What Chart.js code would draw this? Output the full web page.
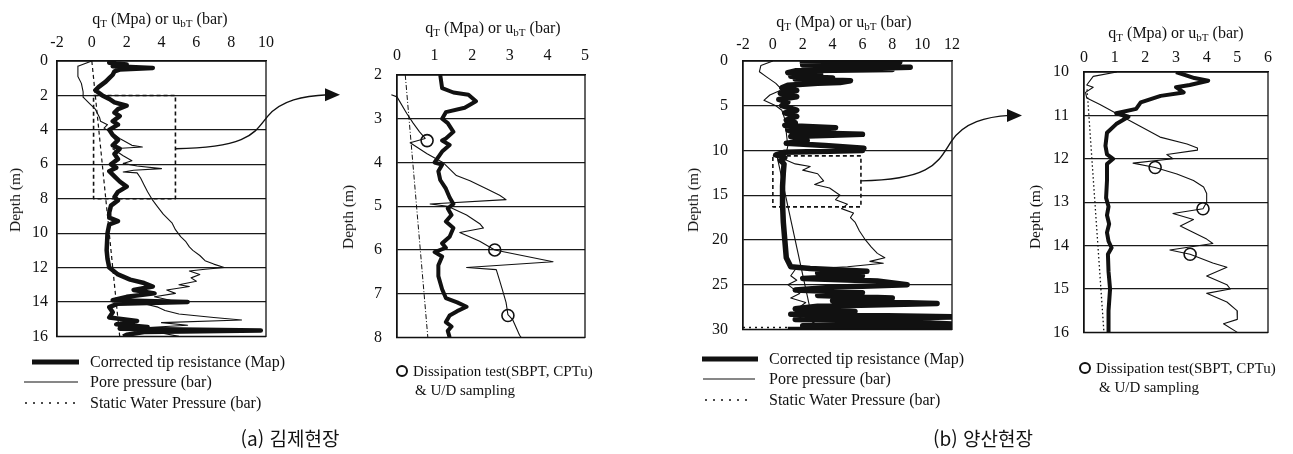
<!DOCTYPE html>
<html lang="ko">
<head>
<meta charset="UTF-8">
<title>CPTu profiles - 김제 / 양산</title>
<script src="https://cdn.jsdelivr.net/npm/chart.js"></script>
<style>
    body {
        margin: 0;
        width: 1293px;
        height: 454px;
        position: relative;
        overflow: hidden;
        background: #fff;
        color: #111;
        font-family: "Liberation Serif", "Times New Roman", serif;
    }
    canvas { position: absolute; }
    .lbl {
        position: absolute;
        transform: translate(-50%, -50%);
        white-space: nowrap;
        font-size: 16px;
    }
    .lbl sub { font-size: 11px; vertical-align: -3px; }
    .depth { transform: translate(-50%, -50%) rotate(-90deg); font-size: 15.5px; }
    .leg {
        position: absolute;
        white-space: nowrap;
        font-size: 16px;
        line-height: 18px;
    }
    .leg.small { font-size: 15px; }
    .cap {
        position: absolute;
        transform: translate(-50%, -50%);
        white-space: nowrap;
        font-family: "Noto Sans CJK KR", "Noto Sans", sans-serif;
        font-size: 19px;
    }
    svg.sample { position: absolute; overflow: visible; }
    #overlay { left: 0; top: 0; pointer-events: none; }
</style>
</head>
<body>
    <canvas id="c1"></canvas>
    <canvas id="c2"></canvas>
    <canvas id="c3"></canvas>
    <canvas id="c4"></canvas>
    <canvas id="overlay" width="1293" height="454"></canvas>

    <!-- axis titles -->
    <div class="lbl" style="left:160px; top:19px">q<sub>T</sub> (Mpa) or u<sub>bT</sub> (bar)</div>
    <div class="lbl" style="left:493px; top:28px">q<sub>T</sub> (Mpa) or u<sub>bT</sub> (bar)</div>
    <div class="lbl" style="left:844px; top:22px">q<sub>T</sub> (Mpa) or u<sub>bT</sub> (bar)</div>
    <div class="lbl" style="left:1176px; top:33px">q<sub>T</sub> (Mpa) or u<sub>bT</sub> (bar)</div>
    <div class="lbl depth" style="left:15px; top:200px">Depth (m)</div>
    <div class="lbl depth" style="left:348px; top:217px">Depth (m)</div>
    <div class="lbl depth" style="left:693px; top:200px">Depth (m)</div>
    <div class="lbl depth" style="left:1035px; top:217px">Depth (m)</div>

    <!-- legend samples -->
    <svg class="sample" style="left:0; top:0" width="1" height="1">
        <line x1="32" y1="362" x2="79" y2="362" stroke="#111" stroke-width="5"/>
        <line x1="24" y1="382" x2="78" y2="382" stroke="#111" stroke-width="1.2"/>
        <line x1="25" y1="403" x2="76" y2="403" stroke="#111" stroke-width="1.5" stroke-dasharray="2,6"/>
        <line x1="702" y1="359" x2="758" y2="359" stroke="#111" stroke-width="5"/>
        <line x1="703" y1="379" x2="755" y2="379" stroke="#111" stroke-width="1.2"/>
        <line x1="705" y1="400" x2="753" y2="400" stroke="#111" stroke-width="1.5" stroke-dasharray="2,6"/>
        <circle cx="402" cy="371" r="5" fill="none" stroke="#111" stroke-width="2"/>
        <circle cx="1085" cy="368" r="5" fill="none" stroke="#111" stroke-width="2"/>
    </svg>
    <div class="leg" style="left:90px; top:353px">Corrected tip resistance (Map)</div>
    <div class="leg" style="left:90px; top:373px">Pore pressure (bar)</div>
    <div class="leg" style="left:90px; top:394px">Static Water Pressure (bar)</div>
    <div class="leg" style="left:769px; top:350px">Corrected tip resistance (Map)</div>
    <div class="leg" style="left:769px; top:370px">Pore pressure (bar)</div>
    <div class="leg" style="left:769px; top:391px">Static Water Pressure (bar)</div>
    <div class="leg small" style="left:413px; top:362px">Dissipation test(SBPT, CPTu)</div>
    <div class="leg small" style="left:415px; top:381px">&amp; U/D sampling</div>
    <div class="leg small" style="left:1096px; top:359px">Dissipation test(SBPT, CPTu)</div>
    <div class="leg small" style="left:1099px; top:378px">&amp; U/D sampling</div>

    <div class="cap" style="left:290px; top:437px">(a) 김제현장</div>
    <div class="cap" style="left:983px; top:437px">(b) 양산현장</div>

<script>
// ---- data: [value, depth(m)] ----
// (a) Gimje, full profile
const kjTip = [[1.4,0],[1.0,0.1],[2.0,0.2],[1.2,0.3],[3.5,0.4],[1.6,0.5],[1.3,0.6],[1.2,0.8],[1.0,1.0],[0.8,1.2],[0.4,1.5],[0.2,1.7],[0.6,2.0],[1.0,2.2],[1.3,2.4],[2.0,2.6],[1.5,2.8],[1.3,3.0],[1.6,3.2],[1.2,3.5],[1.5,3.7],[1.0,4.0],[1.2,4.3],[1.5,4.6],[1.2,4.9],[1.6,5.1],[1.3,5.4],[1.5,5.7],[1.1,6.0],[1.4,6.2],[1.0,6.4],[1.3,6.7],[1.6,7.0],[2.0,7.3],[1.5,7.6],[1.3,7.9],[1.5,8.1],[1.1,8.4],[1.0,8.8],[1.0,9.1],[1.5,9.3],[1.0,9.5],[0.9,10.0],[0.85,11.0],[0.9,11.5],[1.0,12.0],[1.5,12.4],[2.2,12.7],[3.0,12.9],[3.5,13.1],[2.4,13.3],[3.6,13.5],[2.0,13.7],[1.2,13.9],[5.5,14.0],[1.5,14.1],[1.0,14.3],[1.2,14.6],[1.0,14.9],[2.6,15.1],[1.4,15.3],[3.2,15.45],[1.6,15.55],[9.7,15.65],[3.0,15.75],[2.0,15.9],[1.8,16.0]];
const kjPore = [[0,0],[-0.8,0.3],[-0.8,0.9],[-0.6,1.3],[-0.5,1.8],[-0.5,2.1],[-0.1,2.5],[0.2,2.8],[0.45,3.3],[0.5,3.5],[0.9,3.7],[0.7,3.9],[1.2,4.2],[1.6,4.5],[2.3,4.9],[2.9,5.0],[1.2,5.1],[1.8,5.5],[2.3,5.8],[1.8,5.95],[2.6,6.1],[4.0,6.25],[2.4,6.35],[1.8,6.45],[2.6,6.5],[2.8,6.8],[3.0,7.2],[3.2,7.6],[3.5,8.1],[3.8,8.5],[4.1,8.9],[4.6,9.4],[4.8,9.8],[5.1,10.2],[5.4,10.5],[5.6,10.8],[5.8,11.0],[6.2,11.3],[6.5,11.6],[7.0,11.8],[7.6,12.0],[6.5,12.1],[5.6,12.2],[6.2,12.4],[5.7,12.6],[6.0,12.8],[5.0,13.0],[5.6,13.1],[4.3,13.3],[4.8,13.5],[3.6,13.7],[4.5,13.9],[3.0,14.1],[3.8,14.3],[4.2,14.5],[5.0,14.7],[7.0,14.9],[8.6,15.05],[4.0,15.2],[5.5,15.35],[3.0,15.5],[6.0,15.6],[4.0,15.8],[5.0,16.0]];
const kjStatic = [[0,0],[1.6,16]];
const kjBox = [[0.1,2],[4.8,2],[4.8,8],[0.1,8],[0.1,2]];

// (a) Gimje, 2-8 m detail
const kjzTip = [[1.15,2.0],[1.2,2.3],[1.5,2.4],[1.9,2.45],[2.1,2.6],[1.8,2.75],[1.3,2.85],[1.2,3.0],[1.35,3.1],[1.5,3.3],[1.3,3.45],[1.2,3.5],[1.4,3.6],[1.2,3.75],[1.0,4.0],[1.2,4.05],[1.1,4.2],[1.15,4.4],[1.3,4.6],[1.4,4.8],[1.5,4.95],[1.35,5.05],[1.45,5.2],[1.3,5.35],[1.5,5.5],[1.4,5.7],[1.2,5.85],[1.3,5.95],[1.0,6.05],[1.2,6.15],[1.1,6.35],[1.1,6.6],[1.2,6.9],[1.3,7.1],[1.6,7.2],[1.85,7.3],[1.6,7.4],[1.4,7.5],[1.3,7.65],[1.45,7.75],[1.35,7.85],[1.4,8.0]];
const kjzPore = [[-0.15,2.45],[0,2.5],[0.26,2.88],[0.43,3.1],[0.6,3.3],[0.75,3.45],[0.35,3.55],[0.8,3.8],[1.22,4.0],[1.58,4.3],[1.94,4.42],[2.38,4.6],[2.73,4.75],[2.9,4.85],[0.88,4.95],[1.35,5.0],[1.85,5.2],[2.2,5.4],[2.3,5.5],[1.67,5.6],[2.2,5.8],[2.6,6.0],[4.15,6.27],[1.85,6.4],[2.64,6.45],[2.73,6.7],[2.8,6.9],[2.9,7.2],[2.95,7.48],[3.08,7.6],[3.26,7.95],[3.3,8.0]];
const kjzStatic = [[0.22,2],[0.82,8]];
const kjzTests = [[0.8,3.5],[2.6,6.0],[2.95,7.5]];

// (b) Yangsan, full profile
const ysTip = [[1.8,0],[8.5,0.1],[2.5,0.2],[7.8,0.3],[2.0,0.45],[9.2,0.7],[6.0,0.85],[8.0,0.95],[1.5,1.1],[1.0,1.3],[3.2,1.5],[1.2,1.7],[4.0,1.9],[1.5,2.0],[5.2,2.2],[4.5,2.4],[3.0,2.5],[1.0,2.7],[0.6,3.0],[1.6,3.3],[0.5,3.6],[1.6,4.0],[0.4,4.3],[1.0,4.6],[0.6,5.0],[1.6,5.5],[0.8,5.8],[1.6,6.2],[0.9,6.6],[1.5,6.9],[0.8,7.2],[4.2,7.45],[3.0,7.55],[1.0,7.7],[1.4,8.0],[6.0,8.2],[4.0,8.3],[1.2,8.45],[2.3,8.9],[0.9,9.2],[3.5,9.45],[6.1,9.75],[5.0,9.9],[6.0,10.0],[0.8,10.2],[0.2,10.5],[0.8,10.8],[0.5,11.1],[0.75,11.5],[0.7,12.5],[0.65,14],[0.65,16],[0.7,18],[0.8,20],[0.9,22],[1.2,23.0],[2.5,23.2],[6.3,23.5],[3.0,23.7],[6.0,24.0],[2.0,24.3],[7.0,24.6],[9.0,25.0],[4.0,25.3],[1.5,25.6],[6.0,25.9],[3.0,26.2],[8.0,26.5],[4.0,26.8],[11.0,27.1],[3.0,27.4],[1.5,27.7],[5.5,28.0],[1.2,28.3],[12,28.6],[1.5,28.9],[8.0,29.1],[12,29.4],[2,29.6],[12,29.8],[1,30]];
const ysPore = [[0,0],[-0.8,0.5],[-0.9,1.2],[-0.4,1.8],[0.2,2.5],[0.6,3.2],[-0.2,3.8],[-0.6,4.4],[0.2,5.0],[0.6,5.5],[0.8,6.5],[0.9,8],[1.0,9.5],[0.9,10.3],[0.2,10.7],[0.8,11.0],[1.5,11.5],[2.5,11.8],[2.0,12.2],[3.0,12.6],[3.4,13.4],[2.8,13.8],[3.8,14.2],[4.5,15.0],[4.2,15.5],[5.0,16.0],[4.6,16.5],[5.4,17.0],[5.2,17.5],[5.5,18.0],[5.8,19.0],[6.2,20.0],[6.6,20.8],[7.0,21.5],[7.5,22.0],[6.5,22.4],[7.4,22.6],[5.0,23.0],[1.5,23.3],[1.2,24],[1.6,24.5],[1.0,25],[1.4,25.5],[1.8,26],[1.2,26.5],[2.2,27],[1.8,27.5],[2.5,28],[1.5,28.5],[2.5,29],[3,29.5],[2,30]];
const ysStatic = [[0.3,10.8],[2.7,29.3]];
const ysStaticBase = [[-2,29.8],[1.2,29.8]];
const ysBox = [[0,10.6],[5.9,10.6],[5.9,16.3],[0,16.3],[0,10.6]];

// (b) Yangsan, 10-16 m detail
const ysdTip = [[3.0,10.0],[3.6,10.14],[4.05,10.2],[3.45,10.3],[3.0,10.35],[3.25,10.47],[2.5,10.55],[2.2,10.62],[1.85,10.7],[1.7,10.85],[1.05,10.95],[1.45,11.03],[1.05,11.2],[0.75,11.4],[0.7,11.7],[0.75,11.9],[0.95,12.0],[0.75,12.12],[0.75,12.5],[0.72,12.9],[0.8,13.1],[0.75,13.3],[0.82,13.5],[0.75,13.7],[0.8,13.9],[0.9,14.05],[0.78,14.2],[0.8,14.6],[0.85,15.0],[0.8,15.5],[0.8,16.0]];
const ysdPore = [[1.07,10.0],[0.3,10.1],[0.09,10.3],[0.3,10.35],[0.05,10.47],[0.09,10.6],[0.52,10.75],[1.18,11.0],[1.83,11.25],[2.48,11.5],[3.36,11.66],[3.7,11.75],[3.7,11.8],[2.7,11.9],[2.9,12.0],[1.6,12.1],[2.32,12.2],[3.03,12.35],[3.57,12.5],[3.9,12.65],[4.0,12.8],[4.0,13.0],[3.88,13.15],[2.9,13.26],[3.57,13.4],[3.14,13.55],[3.57,13.7],[4.0,13.85],[4.2,13.95],[2.8,14.1],[3.46,14.2],[4.2,14.4],[4.66,14.5],[4.0,14.7],[4.66,14.9],[4.77,15.0],[4.0,15.1],[4.66,15.3],[4.99,15.5],[5.0,15.7],[4.55,15.8],[5.0,16.0]];
const ysdStatic = [[0.1,10.4],[0.65,16]];
const ysdTests = [[2.32,12.2],[3.88,13.15],[3.46,14.2]];

// ---- layout ----
const INK = '#111';
const SERIF = "'Liberation Serif', 'Times New Roman', serif";
const AX_W = 45, AX_H = 35, PAD_R = 15, PAD_B = 15;

const pts = a => a.map(p => ({ x: p[0], y: p[1] }));

const frame = {
    id: 'frame',
    afterDatasetsDraw(chart) {
        const { ctx, chartArea: a } = chart;
        ctx.save();
        ctx.strokeStyle = INK;
        ctx.lineWidth = 1.3;
        ctx.strokeRect(a.left, a.top, a.right - a.left, a.bottom - a.top);
        ctx.restore();
    }
};

function line(data, width, dash) {
    return {
        data: pts(data), showLine: true, pointRadius: 0,
        borderColor: INK, borderWidth: width, borderDash: dash || [],
        borderJoinStyle: 'round', tension: 0
    };
}

function markers(data) {
    return {
        data: pts(data), showLine: false, pointRadius: 6,
        pointBorderWidth: 1.6, pointBorderColor: INK,
        pointBackgroundColor: 'rgba(0,0,0,0)'
    };
}

function panel(id, box, xr, yr, padX, padY, datasets) {
    const cv = document.getElementById(id);
    cv.width = box.r - box.l + AX_W + PAD_R;
    cv.height = box.b - box.t + AX_H + PAD_B;
    cv.style.left = (box.l - AX_W) + 'px';
    cv.style.top = (box.t - AX_H) + 'px';
    const font = { family: SERIF, size: 16 };
    return new Chart(cv, {
        type: 'scatter',
        data: { datasets: datasets },
        options: {
            responsive: false,
            animation: false,
            events: [],
            layout: { padding: { left: 0, top: 0, right: PAD_R, bottom: PAD_B } },
            plugins: { legend: { display: false }, tooltip: { enabled: false } },
            scales: {
                x: {
                    type: 'linear', position: 'top',
                    min: xr[0], max: xr[1],
                    ticks: { stepSize: xr[2], padding: padX, color: INK, font: font, maxRotation: 0 },
                    grid: { display: false, drawTicks: false },
                    border: { display: true, color: INK, width: 1.3 },
                    afterFit: s => { s.height = AX_H; }
                },
                y: {
                    type: 'linear', reverse: true,
                    min: yr[0], max: yr[1],
                    ticks: { stepSize: yr[2], padding: padY, color: INK, font: font },
                    grid: { color: '#1a1a1a', lineWidth: 1.2, drawTicks: false },
                    border: { display: true, color: INK, width: 1.3 },
                    afterFit: s => { s.width = AX_W; }
                }
            }
        },
        plugins: [frame]
    });
}

const kjzPoreSet = line(kjzPore, 1.1);
kjzPoreSet.clip = { left: 10, top: 0, right: 0, bottom: 0 };

const chart1 = panel('c1', { l: 57, t: 61, r: 268, b: 340 }, [-2, 10, 2], [0, 16, 2], 9, 9, [
    line(kjTip, 4.5),
    line(kjPore, 1.1),
    line(kjStatic, 1.2, [4, 3]),
    line(kjBox, 1.6, [4, 3])
]);

const chart2 = panel('c2', { l: 397, t: 75, r: 585, b: 347 }, [0, 5, 1], [2, 8, 1], 10, 15, [
    line(kjzTip, 4),
    kjzPoreSet,
    line(kjzStatic, 1, [5, 2, 1, 2]),
    markers(kjzTests)
]);

const chart3 = panel('c3', { l: 743, t: 61, r: 952, b: 339 }, [-2, 12, 2], [0, 30, 5], 7, 15, [
    line(ysTip, 5.5),
    line(ysPore, 1.1),
    line(ysStatic, 1.1),
    line(ysStaticBase, 1.5, [2, 4]),
    line(ysBox, 1.6, [4, 3])
]);

const chart4 = panel('c4', { l: 1084, t: 72, r: 1268, b: 342 }, [0, 6, 1], [10, 16, 1], 5, 15, [
    line(ysdTip, 4),
    line(ysdPore, 1.1),
    line(ysdStatic, 1.3, [1.5, 2.5]),
    markers(ysdTests)
]);

// ---- connector arrows from the dashed boxes to the detail panels ----
function pagePoint(chart, x, y) {
    const c = chart.canvas;
    return {
        x: c.offsetLeft + chart.scales.x.getPixelForValue(x),
        y: c.offsetTop + chart.scales.y.getPixelForValue(y)
    };
}

function arrow(ctx, s, e) {
    const dx = e.x - s.x, dy = e.y - s.y;
    ctx.beginPath();
    ctx.moveTo(s.x, s.y);
    ctx.bezierCurveTo(s.x + dx * 0.45, s.y + dy * 0.02, s.x + dx * 0.48, s.y + dy * 0.3, s.x + dx * 0.56, s.y + dy * 0.6);
    ctx.bezierCurveTo(s.x + dx * 0.64, s.y + dy * 0.9, s.x + dx * 0.78, s.y + dy * 0.98, e.x - 12, e.y);
    ctx.stroke();
    ctx.beginPath();
    ctx.moveTo(e.x, e.y);
    ctx.lineTo(e.x - 15, e.y - 6.5);
    ctx.lineTo(e.x - 15, e.y + 6.5);
    ctx.closePath();
    ctx.fill();
}

const octx = document.getElementById('overlay').getContext('2d');
octx.strokeStyle = INK;
octx.fillStyle = INK;
octx.lineWidth = 1.4;

const a1 = pagePoint(chart1, 4.8, 5.1);
const a2 = pagePoint(chart2, 0, 2.45);
arrow(octx, a1, { x: a2.x - 57, y: a2.y });

const b1 = pagePoint(chart3, 5.9, 13.4);
const b2 = pagePoint(chart4, 0, 11.0);
arrow(octx, b1, { x: b2.x - 62, y: b2.y });
</script>
</body>
</html>
